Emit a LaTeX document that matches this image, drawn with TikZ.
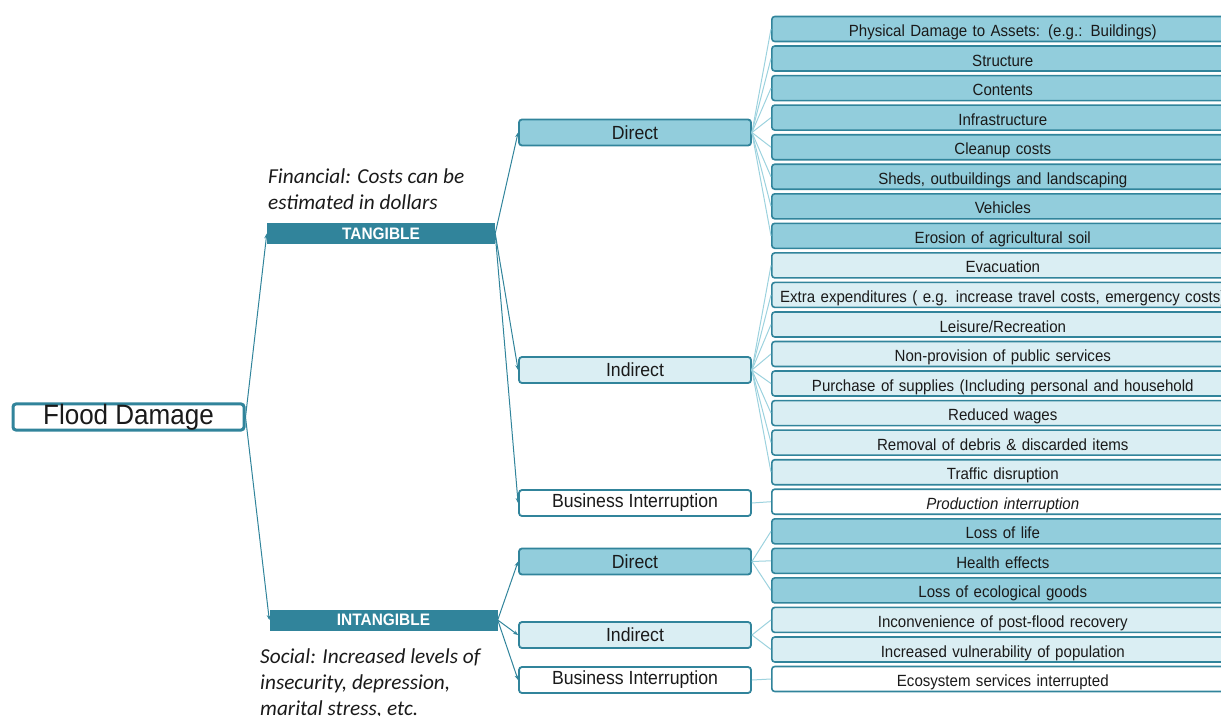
\documentclass[tikz,border=0pt]{standalone}
\usepackage{fontspec}
\setmainfont{Liberation Sans}[FakeStretch=0.93]
\newfontfamily\calfont{Carlito}
\usetikzlibrary{arrows.meta}
\definecolor{tdark}{HTML}{31849B}
\definecolor{tmed}{HTML}{92CDDC}
\definecolor{tlight}{HTML}{DAEEF3}
\definecolor{tline}{HTML}{9CD2DE}
\definecolor{txt}{HTML}{1A1A1A}
\tikzset{
  rbox/.style={draw=tdark, line width=1.6pt, rounded corners=3pt, minimum width=462pt,
    minimum height=25pt, inner sep=0pt, text width=452pt, align=center, anchor=west,
    text height=15pt, text depth=0pt,
    text=txt, font=\fontsize{16.2}{18}\selectfont},
  mbox/.style={draw=tdark, line width=1.8pt, rounded corners=3pt, minimum width=232pt,
    minimum height=26pt, inner sep=0pt, text=txt, font=\fontsize{19}{21}\selectfont},
  catbox/.style={fill=tdark, minimum width=228pt, minimum height=21pt, inner sep=0pt,
    text=white, font=\fontsize{16.6}{18}\selectfont\bfseries},
  note/.style={anchor=base west, align=left, inner sep=0pt, text=txt,
    font=\calfont\itshape\fontsize{21.3}{26}\selectfont},
  arr/.style={draw=tdark, line width=1pt, -{Stealth[length=5pt,width=4pt]}},
  fan/.style={draw=tline, line width=1pt}
}
\begin{document}
\begin{tikzpicture}[x=1pt,y=-1pt]
\useasboundingbox (0,0) rectangle (1221,715);

% root
\node[draw=tdark, line width=3pt, rounded corners=3pt, fill=white, minimum width=231pt,
  minimum height=26pt, inner sep=0pt, text=txt, font=\fontsize{28}{30}\selectfont]
  (fd) at (128.5,417) {Flood Damage};

% categories
\node[catbox] (tang) at (381,233.5) {TANGIBLE};
\node[catbox] (intang) at (383.5,620) {INTANGIBLE};

% notes (base anchor = baseline of last line)
\node[note] (fin) at (268,209) {Financial: Costs can be\\estimated in dollars};
\node[note] (soc) at (260,715) {Social: Increased levels of\\insecurity, depression,\\marital stress, etc.};

% middle column
\node[mbox, fill=tmed] (td) at (635,132.5) {Direct};
\node[mbox, fill=tlight] (ti) at (635,370) {Indirect};
\node[mbox, fill=white] (tb) at (635,503) {Business Interruption};
\node[mbox, fill=tmed] (id) at (635,561.5) {Direct};
\node[mbox, fill=tlight] (ii) at (635,635) {Indirect};
\node[mbox, fill=white] (ib) at (635,680) {Business Interruption};

% right column
\node[rbox, fill=tmed] (r1) at (771,29.0) {Physical Damage to Assets: (e.g.: Buildings)};
\node[rbox, fill=tmed] (r2) at (771,58.5) {Structure};
\node[rbox, fill=tmed] (r3) at (771,88.1) {Contents};
\node[rbox, fill=tmed] (r4) at (771,117.6) {Infrastructure};
\node[rbox, fill=tmed] (r5) at (771,147.2) {Cleanup costs};
\node[rbox, fill=tmed] (r6) at (771,176.7) {Sheds, outbuildings and landscaping};
\node[rbox, fill=tmed] (r7) at (771,206.3) {Vehicles};
\node[rbox, fill=tmed] (r8) at (771,235.8) {Erosion of agricultural soil};
\node[rbox, fill=tlight] (r9) at (771,265.4) {Evacuation};
\node[rbox, fill=tlight] (r10) at (771,294.9) {\mbox{Extra expenditures ( e.g. increase travel costs, emergency costs)}};
\node[rbox, fill=tlight] (r11) at (771,324.5) {Leisure/Recreation};
\node[rbox, fill=tlight] (r12) at (771,354.0) {Non-provision of public services};
\node[rbox, fill=tlight] (r13) at (771,383.5) {\mbox{Purchase of supplies (Including personal and household}};
\node[rbox, fill=tlight] (r14) at (771,413.1) {Reduced wages};
\node[rbox, fill=tlight] (r15) at (771,442.6) {Removal of debris \& discarded items};
\node[rbox, fill=tlight] (r16) at (771,472.2) {Traffic disruption};
\node[rbox, fill=white] (r17) at (771,501.7) {\itshape Production interruption};
\node[rbox, fill=tmed] (r18) at (771,531.3) {Loss of life};
\node[rbox, fill=tmed] (r19) at (771,560.8) {Health effects};
\node[rbox, fill=tmed] (r20) at (771,590.4) {Loss of ecological goods};
\node[rbox, fill=tlight] (r21) at (771,619.9) {Inconvenience of post-flood recovery};
\node[rbox, fill=tlight] (r22) at (771,649.5) {Increased vulnerability of population};
\node[rbox, fill=white] (r23) at (771,679.0) {Ecosystem services interrupted};

% connectors: root to categories
\draw[arr] (fd.east) -- (tang.west);
\draw[arr] (fd.east) -- (intang.west);
% categories to middle
\foreach \m in {td,ti,tb} \draw[arr] (tang.east) -- (\m.west);
\foreach \m in {id,ii,ib} \draw[arr] (intang.east) -- (\m.west);
% middle to right
\foreach \r in {1,...,8} \draw[fan] (td.east) -- (r\r.west);
\foreach \r in {9,...,16} \draw[fan] (ti.east) -- (r\r.west);
\draw[fan] (tb.east) -- (r17.west);
\foreach \r in {18,19,20} \draw[fan] (id.east) -- (r\r.west);
\foreach \r in {21,22} \draw[fan] (ii.east) -- (r\r.west);
\draw[fan] (ib.east) -- (r23.west);
\end{tikzpicture}
\end{document}
